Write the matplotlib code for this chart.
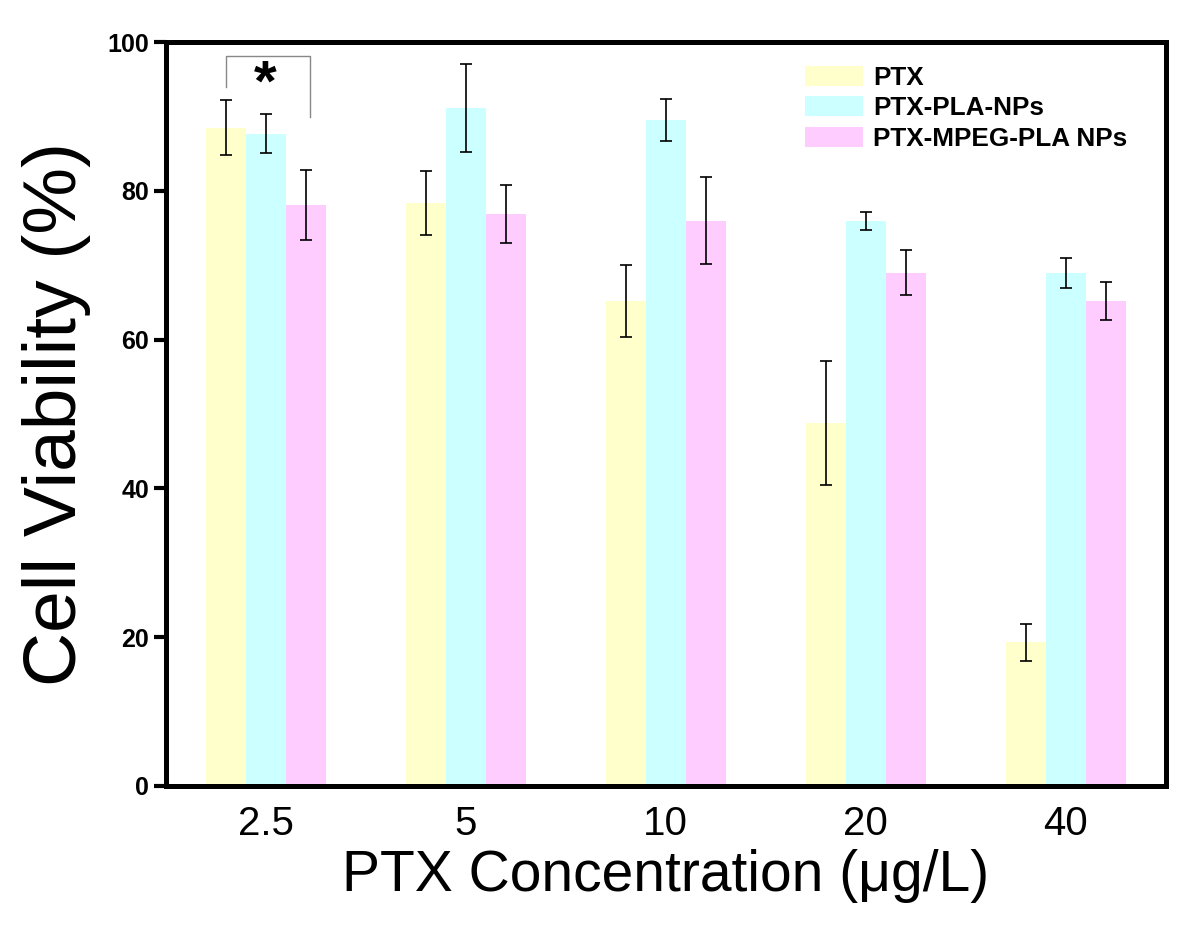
import numpy as np
import matplotlib
matplotlib.use('Agg')
import matplotlib.pyplot as plt

# data
concs = ['2.5', '5', '10', '20', '40']
ptx = [88.5, 78.4, 65.2, 48.8, 19.3]
ptx_err = [3.7, 4.3, 4.8, 8.3, 2.5]
pla = [87.7, 91.1, 89.5, 75.9, 69.0]
pla_err = [2.6, 5.9, 2.8, 1.2, 2.0]
mpeg = [78.1, 76.9, 76.0, 69.0, 65.2]
mpeg_err = [4.7, 3.9, 5.8, 3.0, 2.5]
labels = ['PTX', 'PTX-PLA-NPs', 'PTX-MPEG-PLA NPs']
colors = ['#FFFFCC', '#CCFFFF', '#FFCCFF']

plt.rcParams['font.family'] = ['Liberation Sans', 'DejaVu Sans']

fig = plt.figure(figsize=(12, 9.34), dpi=100)
ax = fig.add_axes([0.138, 0.1585, 0.8335, 0.7965])

x = np.arange(len(concs))
w = 0.2
for i, (vals, errs) in enumerate([(ptx, ptx_err), (pla, pla_err), (mpeg, mpeg_err)]):
    ax.bar(x + (i - 1) * w, vals, w, color=colors[i], label=labels[i],
           yerr=errs, error_kw=dict(ecolor='black', elinewidth=1.2, capsize=4, capthick=1.2))

# significance bracket
ax.plot([-0.2, -0.2, 0.22, 0.22], [93.9, 98.1, 98.1, 89.9], color='#888888', lw=1)
ax.text(0.0, 94.2, '*', ha='center', va='center', fontsize=42, fontweight='bold')

ax.set_xlim(-0.5, 4.5)
ax.set_ylim(0, 100)
ax.set_xticks(x)
ax.set_xticklabels(concs, fontsize=29)
ax.tick_params(axis='x', length=0, pad=14)
ax.set_yticks([0, 20, 40, 60, 80, 100])
ax.tick_params(axis='y', direction='out', length=9, width=3, pad=3, labelsize=18)
for t in ax.get_yticklabels():
    t.set_fontweight('bold')
for s in ax.spines.values():
    s.set_linewidth(3.6)

ax.set_ylabel('Cell Viability (%)', fontsize=54, labelpad=12)
ax.set_xlabel('PTX Concentration (μg/L)', fontsize=41, labelpad=4)

leg = ax.legend(loc='upper left', bbox_to_anchor=(0.616, 1.0), frameon=False,
                prop={'weight': 'bold', 'size': 18.8}, handlelength=2.2,
                handleheight=0.8, handletextpad=0.4, labelspacing=0.25)

plt.savefig('out.png', dpi=100)
